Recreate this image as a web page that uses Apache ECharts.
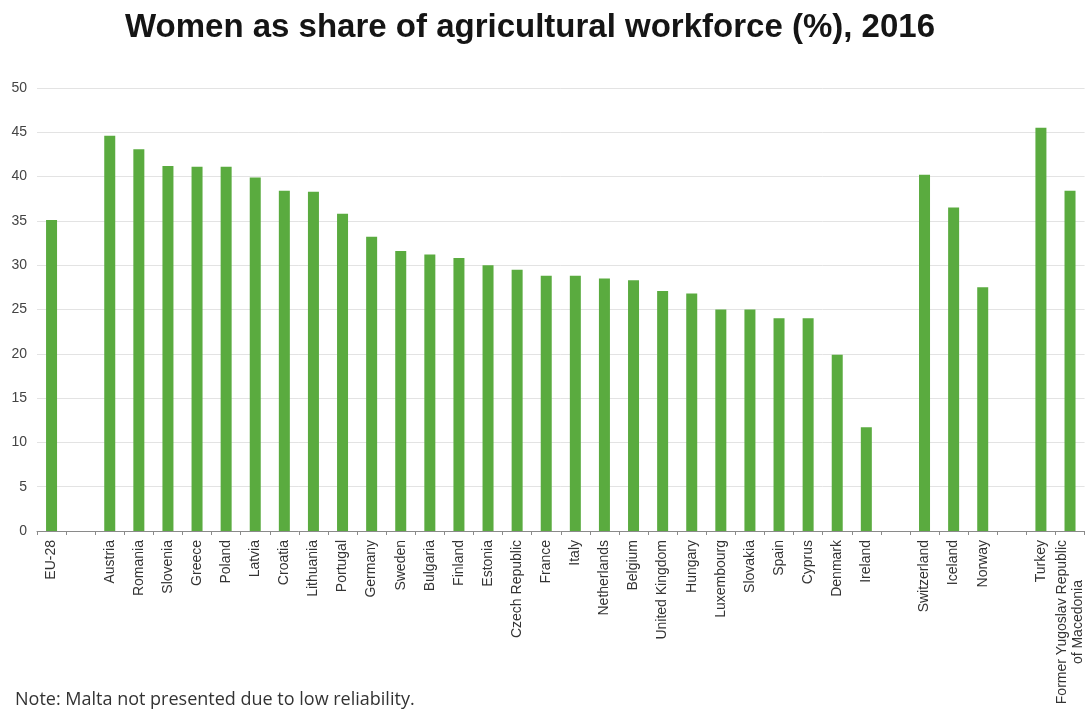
<!DOCTYPE html>
<html>
<head>
<meta charset="utf-8">
<title>Women as share of agricultural workforce (%), 2016</title>
<script src="https://cdn.jsdelivr.net/npm/echarts@6/dist/echarts.min.js"></script>
<style>
  html, body { margin: 0; padding: 0; background: #ffffff; }
  #chart { width: 1086px; height: 712px; }
</style>
</head>
<body>
<div id="chart"></div>
<script>
// Countries in display order; empty strings are spacer slots between groups
const categories = [
  'EU-28', '',
  'Austria', 'Romania', 'Slovenia', 'Greece', 'Poland', 'Latvia', 'Croatia',
  'Lithuania', 'Portugal', 'Germany', 'Sweden', 'Bulgaria', 'Finland', 'Estonia',
  'Czech Republic', 'France', 'Italy', 'Netherlands', 'Belgium', 'United Kingdom',
  'Hungary', 'Luxembourg', 'Slovakia', 'Spain', 'Cyprus', 'Denmark', 'Ireland', '',
  'Switzerland', 'Iceland', 'Norway', '',
  'Turkey', 'Former Yugoslav Republic\nof Macedonia'
];

// Women's share of the agricultural workforce, % (null = spacer)
const shares = [
  35.1, null,
  44.6, 43.1, 41.2, 41.1, 41.1, 39.9, 38.4,
  38.3, 35.8, 33.2, 31.6, 31.2, 30.8, 30.0,
  29.5, 28.8, 28.8, 28.5, 28.3, 27.1,
  26.8, 25.0, 25.0, 24.0, 24.0, 19.9, 11.7, null,
  40.2, 36.5, 27.5, null,
  45.5, 38.4
];

const yTicks = { min: 0, max: 50, interval: 5 };

const chart = echarts.init(document.getElementById('chart'), null, { renderer: 'canvas' });

// Multi-line names: first line starts at the axis, later lines are centred under it
function categoryLabel(name) {
  const lines = name.split('\n');
  if (lines.length === 1) return '{a|' + name + '}';
  return lines.map((l, i) => (i === 0 ? '{a|' : '{c|') + l + '}').join('\n');
}

chart.setOption({
  backgroundColor: '#ffffff',
  animation: false,
  title: [
    {
      text: 'Women as share of agricultural workforce (%), 2016',
      left: 525,
      textAlign: 'center',
      top: 6,
      textStyle: {
        fontFamily: 'Liberation Sans, Arial, sans-serif',
        fontSize: 33,
        fontWeight: 'bold',
        color: '#151515'
      }
    },
    {
      text: 'Note: Malta not presented due to low reliability.',
      left: 10,
      top: 686,
      textStyle: {
        fontFamily: 'Open Sans, Liberation Sans, sans-serif',
        fontSize: 18,
        fontWeight: 'normal',
        color: '#333333'
      }
    }
  ],
  grid: {
    left: 37,
    right: 0,
    top: 88,
    bottom: 181,
    containLabel: false
  },
  xAxis: {
    type: 'category',
    data: categories,
    boundaryGap: true,
    axisLine: { show: true, lineStyle: { color: '#8a8a8a', width: 1 } },
    axisTick: { show: true, alignWithLabel: false, length: 4, lineStyle: { color: '#8a8a8a' } },
    axisLabel: {
      interval: 0,
      rotate: 90,
      margin: 9,
      fontFamily: 'Liberation Sans, Arial, sans-serif',
      fontSize: 14,
      color: '#333333',
      lineHeight: 16,
      formatter: categoryLabel,
      rich: {
        a: { fontFamily: 'Liberation Sans, Arial, sans-serif', fontSize: 14, color: '#333333', lineHeight: 16 },
        c: { fontFamily: 'Liberation Sans, Arial, sans-serif', fontSize: 14, color: '#333333', lineHeight: 16, align: 'center' }
      }
    }
  },
  yAxis: {
    type: 'value',
    min: yTicks.min,
    max: yTicks.max,
    interval: yTicks.interval,
    axisLine: { show: false },
    axisTick: { show: false },
    splitLine: { show: true, lineStyle: { color: '#e3e3e3', width: 1 } },
    axisLabel: {
      margin: 10,
      fontFamily: 'Liberation Sans, Arial, sans-serif',
      fontSize: 14,
      color: '#444444'
    }
  },
  series: [
    {
      type: 'bar',
      data: shares,
      barWidth: 11,
      itemStyle: { color: '#5aab3f' }
    }
  ]
});
</script>
</body>
</html>
